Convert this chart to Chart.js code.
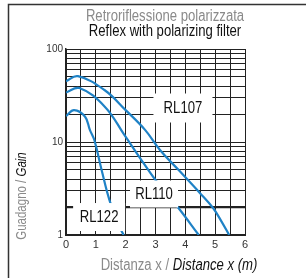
<!DOCTYPE html>
<html>
<head>
<meta charset="utf-8">
<script src="https://cdn.jsdelivr.net/npm/chart.js@4.4.0/dist/chart.umd.min.js"></script>
<style>
  html, body { margin: 0; padding: 0; background: #fff; }
  #wrap { width: 306px; height: 278px; }
</style>
</head>
<body>
<div id="wrap"><canvas id="gainChart" width="306" height="278"></canvas></div>
<script>
// curves: distance (m) -> gain
const distRL107 = [0, 0.4, 1.3, 2.0, 2.65, 3.15, 3.8, 4.48, 4.93, 5.2, 5.47];
const gainRL107 = [45, 51, 36, 22, 13.5, 8.2, 4.9, 2.85, 1.95, 1.42, 1];

const distRL110 = [0, 0.45, 1.3, 1.95, 2.5, 3.0, 3.77, 4.45];
const gainRL110 = [34, 38, 24, 12, 6.6, 3.9, 1.95, 1];

const distRL122 = [0, 0.27, 0.64, 0.8, 0.95, 1.2, 1.47, 1.82, 1.93];
const gainRL122 = [19, 22, 18.7, 13.5, 10.5, 4.9, 2.3, 1.18, 1];

const seriesNames = ['RL107', 'RL110', 'RL122'];
const xTickLabels = [0, 1, 2, 3, 4, 5, 6];
const yTickLabels = [1, 10, 100];

const titleIt = 'Retroriflessione polarizzata';
const titleEn = 'Reflex with polarizing filter';

var FONT = '"Liberation Sans", Arial, sans-serif';
var SQUEEZE = 0.82; // fake a condensed face
var blue = '#1f82c6';

function toPoints(xs, ys) {
  return xs.map(function(x, i) { return { x: x, y: ys[i] }; });
}

// where each curve name sits (data coords) and the white box behind it
var labelSpots = {
  RL107: { x: 3.92, y: 23.2, w: 59, h: 29 },
  RL110: { x: 2.95, y: 2.76, w: 48, h: 27 },
  RL122: { x: 1.11, y: 1.56, w: 52, h: 28 }
};

// draws text pieces in a row, centred, squeezed horizontally
function drawMixed(c, parts, cx, cy) {
  var total = 0;
  parts.forEach(function(p) { c.font = p.font; total += c.measureText(p.text).width; });
  c.save();
  c.translate(cx, cy);
  c.scale(SQUEEZE, 1);
  var x = -total / 2;
  parts.forEach(function(p) {
    c.font = p.font;
    c.fillStyle = p.color;
    c.textAlign = 'left';
    c.textBaseline = 'middle';
    c.fillText(p.text, x, 0);
    x += c.measureText(p.text).width;
  });
  c.restore();
}

var decorPlugin = {
  id: 'decor',
  beforeDraw: function(chart) {
    var c = chart.ctx;
    c.save();
    c.strokeStyle = '#333';
    c.lineWidth = 1.5;
    c.beginPath();
    c.moveTo(8.5, 278);
    c.lineTo(8.5, 4.5);
    c.lineTo(306, 4.5);
    c.stroke();

    drawMixed(c, [{ text: titleIt, font: '16px ' + FONT, color: '#8a8a8a' }], 165, 17);
    drawMixed(c, [{ text: titleEn, font: '16px ' + FONT, color: '#111' }], 165, 32);

    drawMixed(c, [
      { text: 'Distanza x / ', font: '16px ' + FONT, color: '#8a8a8a' },
      { text: 'Distance x (m)', font: 'italic 16px ' + FONT, color: '#111' }
    ], 179, 266);

    c.translate(22, 196);
    c.rotate(-Math.PI / 2);
    drawMixed(c, [
      { text: 'Guadagno / ', font: '14px ' + FONT, color: '#8a8a8a' },
      { text: 'Gain', font: 'italic 14px ' + FONT, color: '#111' }
    ], 0, 0);
    c.restore();
  },
  afterDatasetsDraw: function(chart) {
    var c = chart.ctx;
    var xs = chart.scales.x, ys = chart.scales.y;
    c.save();
    seriesNames.forEach(function(name) {
      var s = labelSpots[name];
      var px = xs.getPixelForValue(s.x);
      var py = ys.getPixelForValue(s.y);
      c.fillStyle = '#fff';
      c.fillRect(px - s.w / 2, py - s.h / 2, s.w, s.h);
      drawMixed(c, [{ text: name, font: '16px ' + FONT, color: '#111' }], px, py + 1);
    });
    c.restore();
  }
};

var ctx = document.getElementById('gainChart').getContext('2d');
var myChart = new Chart(ctx, {
  type: 'line',
  data: {
    datasets: [
      { label: seriesNames[0], data: toPoints(distRL107, gainRL107) },
      { label: seriesNames[1], data: toPoints(distRL110, gainRL110) },
      { label: seriesNames[2], data: toPoints(distRL122, gainRL122) }
    ].map(function(d) {
      d.borderColor = blue;
      d.borderWidth = 2.2;
      d.pointRadius = 0;
      d.fill = false;
      d.tension = 0.4;
      return d;
    })
  },
  options: {
    responsive: false,
    animation: false,
    layout: { padding: { left: 0, top: 49, right: 61, bottom: 0 } },
    scales: {
      x: {
        type: 'linear',
        min: 0, max: 6,
        afterFit: function(scale) { scale.height = 43; },
        grid: { color: '#222', lineWidth: 1, drawTicks: false },
        border: { color: '#222', width: 2 },
        ticks: {
          stepSize: 0.5,
          padding: 3,
          color: '#333',
          font: { size: 11, family: FONT },
          maxRotation: 0,
          autoSkip: false,
          callback: function(v) { return xTickLabels.indexOf(v) >= 0 ? String(v) : ''; }
        }
      },
      y: {
        type: 'logarithmic',
        min: 1, max: 100,
        afterFit: function(scale) { scale.width = 66; },
        afterBuildTicks: function(scale) {
          var t = [];
          [1, 10].forEach(function(dec) {
            for (var k = 1; k < 10; k++) t.push({ value: k * dec });
          });
          t.push({ value: 100 });
          scale.ticks = t;
        },
        grid: {
          color: '#222',
          drawTicks: false,
          lineWidth: function(c) { return c.tick && c.tick.value === 2 ? 2.2 : 1; }
        },
        border: { color: '#222', width: 1.5 },
        ticks: {
          padding: 3,
          color: '#333',
          font: { size: 10, family: FONT },
          autoSkip: false,
          callback: function(v) { return yTickLabels.indexOf(v) >= 0 ? String(v) : ''; }
        }
      }
    },
    plugins: {
      legend: { display: false },
      title: { display: false },
      tooltip: { enabled: false }
    }
  },
  plugins: [decorPlugin]
});
</script>
</body>
</html>
